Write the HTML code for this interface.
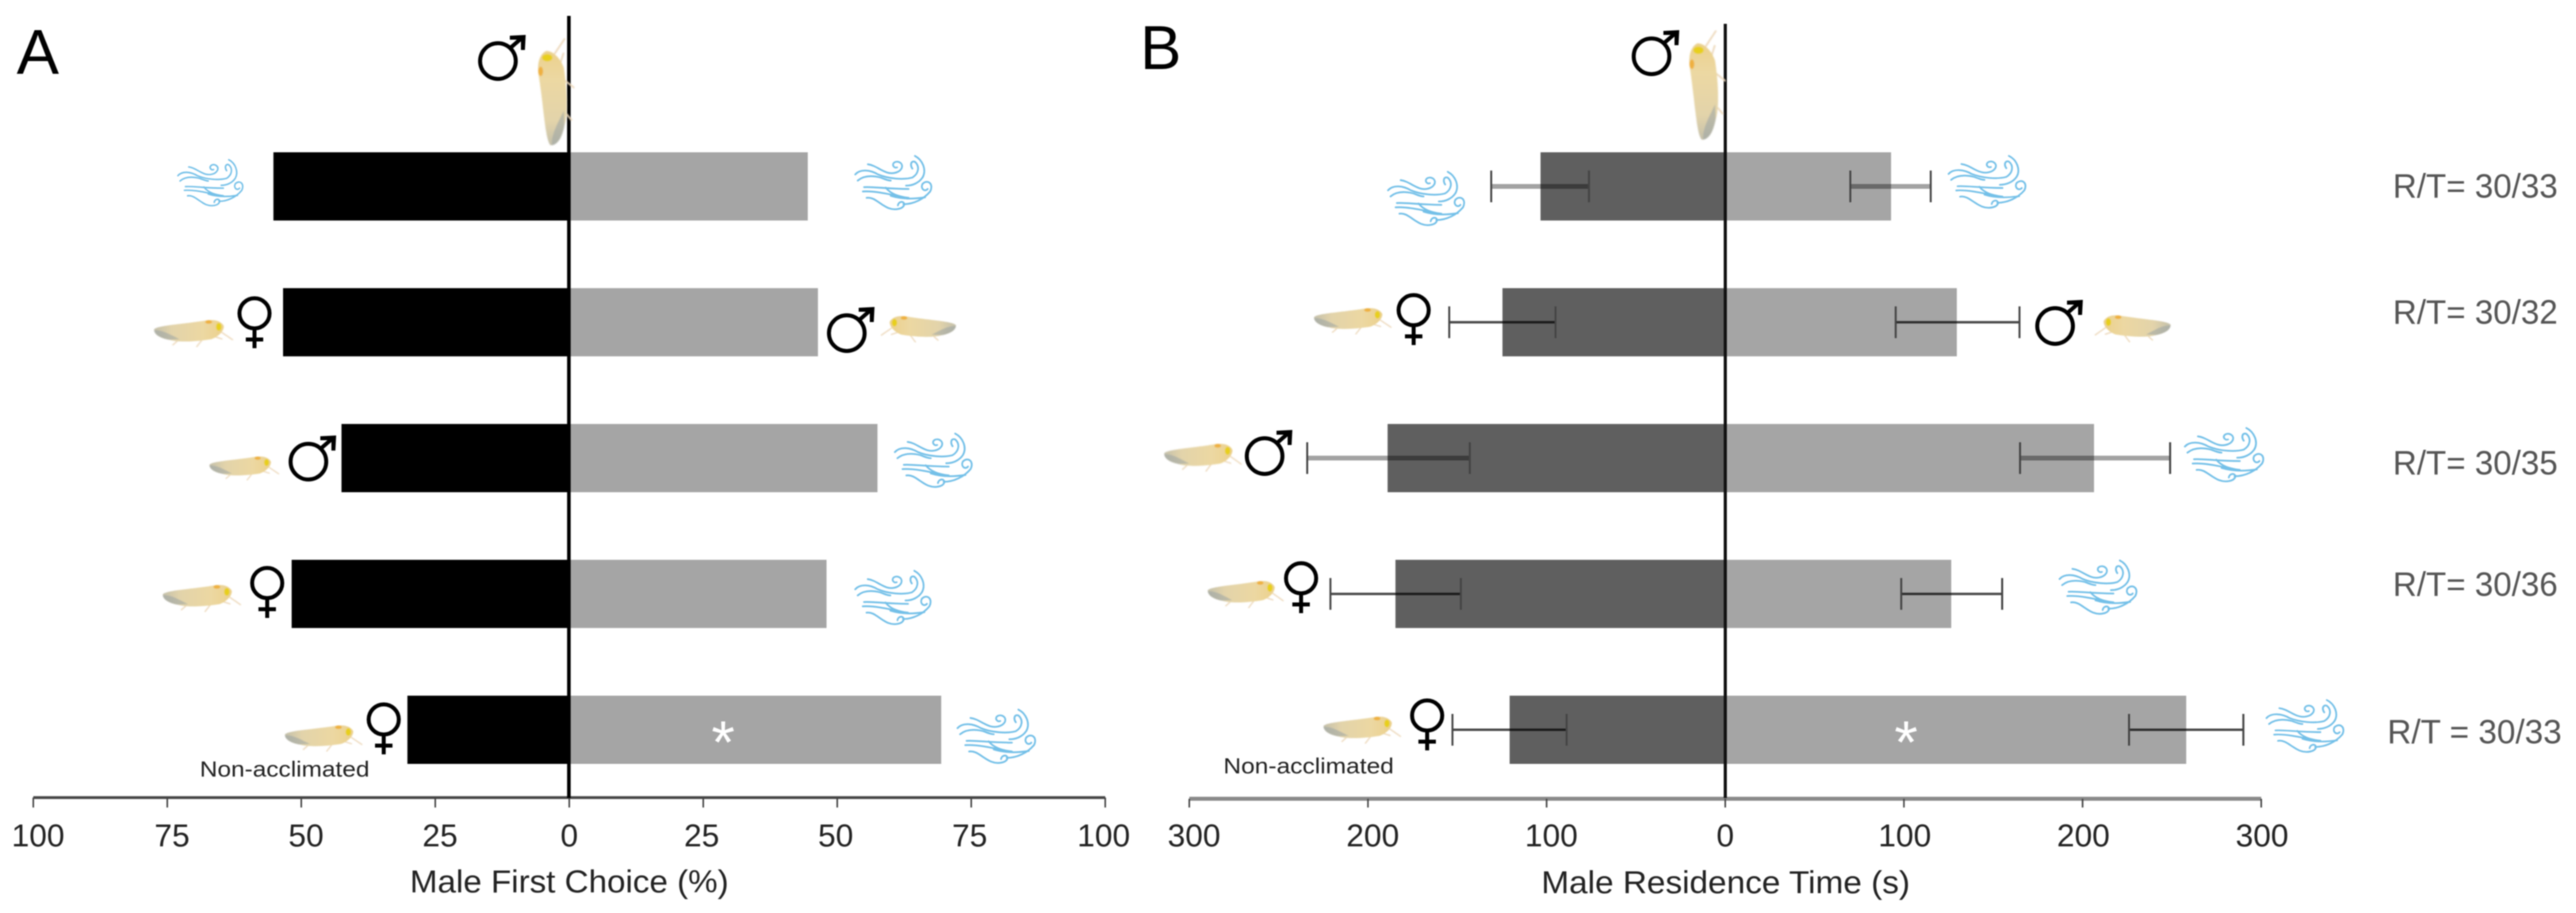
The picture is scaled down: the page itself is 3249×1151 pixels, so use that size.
<!DOCTYPE html>
<html lang="en">
<head>
<meta charset="utf-8">
<title>Male first choice and residence time</title>
<style>
html,body{margin:0;padding:0;background:#fff}
svg{display:block;filter:blur(.7px)}
text{font-family:"Liberation Sans",Arial,sans-serif}
</style>
</head>
<body>
<svg id="chart" xmlns="http://www.w3.org/2000/svg" width="3249" height="1151" viewBox="0 0 3249 1151">
<defs>
  <filter id="soft" x="-10%" y="-10%" width="120%" height="120%"><feGaussianBlur stdDeviation="2"/></filter>
  <linearGradient id="bodyfill" x1="0" x2="1" y1="0" y2="0">
    <stop offset="0" stop-color="#c4c0aa"/><stop offset=".25" stop-color="#e2d3aa"/><stop offset=".7" stop-color="#ecd8a2"/><stop offset="1" stop-color="#ebd08c"/>
  </linearGradient>
  <symbol id="wind" viewBox="105 70 315 225" preserveAspectRatio="none">
    <g fill="none" stroke="#74c0e8" stroke-width="7" stroke-linecap="round">
      <path d="M160 108C190 112 205 130 235 140C250 145 280 145 292 125C302 105 280 92 265 100C252 108 262 125 275 120"/>
      <path d="M110 148C130 125 170 130 200 148C240 165 300 170 335 160C360 145 365 115 345 98C330 92 325 110 335 125"/>
      <path d="M120 172C140 155 170 150 210 160C230 168 240 172 250 172"/>
      <path d="M345 75C375 90 392 130 375 160C360 182 335 192 310 192"/>
      <path d="M145 198C180 195 230 205 320 205"/>
      <path d="M140 215C180 212 230 222 310 240"/>
      <path d="M230 200C250 225 280 235 320 240"/>
      <path d="M155 240C185 235 205 265 240 280C265 290 300 285 303 265C300 250 280 255 278 270"/>
      <path d="M300 265C340 265 380 245 405 215C420 185 395 165 375 185C365 205 385 218 395 205"/>
      <path d="M250 232C290 245 340 245 385 238"/>
    </g>
  </symbol>
  <symbol id="insect" viewBox="40 190 305 108" preserveAspectRatio="none">
    <g filter="url(#soft)">
      <g fill="none" stroke="#edd9bc" stroke-width="5" stroke-linecap="round">
        <path d="M300 240L340 268"/><path d="M230 262L205 295"/><path d="M130 275L115 288"/><path d="M270 255L300 265"/>
      </g>
      <path d="M44 228C55 212 150 208 240 193C265 188 297 193 307 215C307 238 282 258 260 266C200 276 130 279 100 268C70 262 44 250 44 228Z" fill="url(#bodyfill)"/>
      <path d="M44 232C70 228 100 245 140 266L100 268C70 262 48 250 44 232Z" fill="#9aa4a4" opacity=".55"/>
      <ellipse cx="250" cy="199" rx="13" ry="7" fill="#eeb040"/>
      <ellipse cx="288" cy="218" rx="10" ry="15" fill="#e8cf1c"/>
    </g>
  </symbol>
  <g id="male">
    <circle cx="0" cy="0" r="22.5" fill="none" stroke="#000" stroke-width="5"/>
    <path d="M15 -16L30 -29" stroke="#000" stroke-width="5" fill="none"/>
    <path d="M15 -32L35 -33L34 -14L29 -14L29 -27L15 -27Z" fill="#000"/>
  </g>
  <g id="female">
    <circle cx="0" cy="0" r="19" fill="none" stroke="#000" stroke-width="5"/>
    <path d="M0 19V44M-11 33H11" stroke="#000" stroke-width="5" fill="none"/>
  </g>
</defs>

<text x="21" y="93" font-size="80" fill="#000">A</text>
<text x="1438" y="87" font-size="78" fill="#000">B</text>

<g id="marks"></g>

<g>
  <!-- panel A -->
  <use href="#male" x="628" y="77"/>
  <g transform="translate(678,185) rotate(-90)"><use href="#insect" width="138" height="47"/></g>
  <use href="#wind" x="223" y="200" width="86" height="62"/>
  <use href="#wind" x="1077" y="195" width="101" height="72"/>
  <use href="#female" x="321" y="395"/>
  <use href="#insect" x="193" y="403" width="102" height="35"/>
  <use href="#male" x="1068" y="420"/>
  <g transform="translate(2317,0) scale(-1,1)"><use href="#insect" x="1110" y="398" width="97" height="34"/></g>
  <use href="#male" x="389" y="582"/>
  <use href="#insect" x="263" y="575" width="90" height="31"/>
  <use href="#wind" x="1127" y="545" width="102" height="72"/>
  <use href="#female" x="337" y="735"/>
  <use href="#insect" x="204" y="737" width="101" height="35"/>
  <use href="#wind" x="1077" y="718" width="100" height="72"/>
  <use href="#female" x="484" y="907"/>
  <use href="#insect" x="358" y="914" width="100" height="34"/>
  <use href="#wind" x="1206" y="893" width="103" height="72"/>
  <!-- panel B -->
  <use href="#male" x="2083" y="71"/>
  <g transform="translate(2130,178) rotate(-90)"><use href="#insect" width="141" height="47"/></g>
  <use href="#wind" x="1749" y="215" width="101" height="72"/>
  <use href="#wind" x="2456" y="195" width="102" height="70"/>
  <use href="#female" x="1783" y="391"/>
  <use href="#insect" x="1656" y="388" width="100" height="34"/>
  <use href="#male" x="2592" y="411"/>
  <g transform="translate(5380,0) scale(-1,1)"><use href="#insect" x="2641" y="397" width="98" height="35"/></g>
  <use href="#male" x="1595" y="575"/>
  <use href="#insect" x="1467" y="559" width="100" height="36"/>
  <use href="#wind" x="2754" y="538" width="104" height="72"/>
  <use href="#female" x="1641" y="729"/>
  <use href="#insect" x="1522" y="732" width="98" height="35"/>
  <use href="#wind" x="2596" y="705" width="102" height="72"/>
  <use href="#female" x="1800" y="902"/>
  <use href="#insect" x="1668" y="903" width="100" height="35"/>
  <use href="#wind" x="2857" y="881" width="102" height="70"/>
</g>

<text x="252" y="979" font-size="28" fill="#222" textLength="214" lengthAdjust="spacingAndGlyphs">Non-acclimated</text>
<text x="1543" y="975" font-size="28" fill="#222" textLength="215" lengthAdjust="spacingAndGlyphs">Non-acclimated</text>

<text x="517" y="1125" font-size="40" fill="#222" textLength="402" lengthAdjust="spacingAndGlyphs">Male First Choice (%)</text>
<text x="1944" y="1126" font-size="40" fill="#222" textLength="465" lengthAdjust="spacingAndGlyphs">Male Residence Time (s)</text>

<text x="912" y="962" font-size="76" fill="#fff" text-anchor="middle">*</text>
<text x="2404" y="962" font-size="76" fill="#fff" text-anchor="middle">*</text>

<text x="3018" y="249" font-size="43" fill="#555" textLength="208" lengthAdjust="spacingAndGlyphs">R/T= 30/33</text>
<text x="3018" y="408" font-size="43" fill="#555" textLength="208" lengthAdjust="spacingAndGlyphs">R/T= 30/32</text>
<text x="3018" y="598" font-size="43" fill="#555" textLength="208" lengthAdjust="spacingAndGlyphs">R/T= 30/35</text>
<text x="3018" y="751" font-size="43" fill="#555" textLength="208" lengthAdjust="spacingAndGlyphs">R/T= 30/36</text>
<text x="3011" y="937" font-size="43" fill="#555" textLength="220" lengthAdjust="spacingAndGlyphs">R/T = 30/33</text>
</svg>

<script>
const choiceLeft = [55.2, 53.4, 42.5, 51.8, 30.2];
const choiceRight = [44.5, 46.4, 57.5, 48, 69.4];
const residenceLeft = [103.4, 124.7, 189, 184.6, 120.7];
const residenceRight = [92.8, 129.6, 206.4, 126.5, 258];
const residenceLeftErrLow = [76.3, 95, 143, 148, 88.8];
const residenceLeftErrHigh = [131, 154.5, 234, 221, 152.7];
const residenceRightErrLow = [70, 95.4, 165, 98.5, 226];
const residenceRightErrHigh = [115, 164.7, 249, 155, 290];
const choiceTicks = [-100, -75, -50, -25, 0, 25, 50, 75, 100];
const residenceTicks = [-300, -200, -100, 0, 100, 200, 300];

const svgNS = 'http://www.w3.org/2000/svg';
const marks = document.getElementById('marks');
const xChoice = v => 718 + v * 6.76;
const xResidence = v => 2176 + v * 2.2533;
const bandTop = i => 192 + i * 171.25;
const bandHeight = 86;
const bandMid = i => bandTop(i) + bandHeight / 2;

function make(tag, attrs) {
  const el = document.createElementNS(svgNS, tag);
  for (const k in attrs) el.setAttribute(k, attrs[k]);
  marks.appendChild(el);
  return el;
}

function drawBar(xFn, value, side, i, fill) {
  const x0 = xFn(0), x1 = xFn(side * value);
  const el = make('rect', {x: Math.min(x0, x1), y: bandTop(i), width: Math.abs(x1 - x0), height: bandHeight, fill: fill});
  
  
}

function drawErr(xFn, low, high, side, i) {
  const heavy = i === 0 || i === 2;
  const opacity = heavy ? 0.36 : 0.72;
  const thick = heavy ? 6 : 3;
  const xa = xFn(side * low), xb = xFn(side * high), y = bandMid(i);
  const line = make('line', {x1: xa, x2: xb, y1: y, y2: y, stroke: '#000', 'stroke-width': thick, opacity: opacity});
  
  
  [xa, xb].forEach(function (x) {
    const cap = make('line', {x1: x, x2: x, y1: y - 20, y2: y + 20, stroke: '#444', 'stroke-width': 2.5});
    
    
  });
}

choiceLeft.forEach(function (v, i) { drawBar(xChoice, v, -1, i, '#000'); });
choiceRight.forEach(function (v, i) { drawBar(xChoice, v, 1, i, '#a5a5a5'); });
residenceLeft.forEach(function (v, i) { drawBar(xResidence, v, -1, i, '#5f5f5f'); });
residenceRight.forEach(function (v, i) { drawBar(xResidence, v, 1, i, '#a5a5a5'); });

residenceLeftErrLow.forEach(function (v, i) { drawErr(xResidence, v, residenceLeftErrHigh[i], -1, i); });
residenceRightErrLow.forEach(function (v, i) { drawErr(xResidence, v, residenceRightErrHigh[i], 1, i); });

function drawAxis(xFn, ticks, y, stroke, width, leftOffset, rightOffset) {
  const axis = make('line', {x1: xFn(ticks[0]), x2: xFn(ticks[ticks.length - 1]), y1: y, y2: y, stroke: stroke, 'stroke-width': width});
  
  
  ticks.forEach(function (t) {
    const tick = make('line', {x1: xFn(t), x2: xFn(t), y1: y, y2: 1018, stroke: '#444', 'stroke-width': 2});
    
    
    const off = t < 0 ? leftOffset : (t > 0 ? rightOffset : 0);
    const label = make('text', {x: xFn(t) + off, y: 1067, 'font-size': 40, 'text-anchor': 'middle', fill: '#222'});
    
    
    label.textContent = String(Math.abs(t));
  });
}

drawAxis(xChoice, choiceTicks, 1005.5, '#444', 3.5, 6, -2);
drawAxis(xResidence, residenceTicks, 1007, '#8a8a8a', 5, 6, 1);

const zeroA = make('line', {x1: 717.5, x2: 717.5, y1: 20, y2: 1006, stroke: '#000', 'stroke-width': 4.5});


const zeroB = make('line', {x1: 2176, x2: 2176, y1: 30, y2: 1006, stroke: '#111', 'stroke-width': 4});


</script>
</body>
</html>
